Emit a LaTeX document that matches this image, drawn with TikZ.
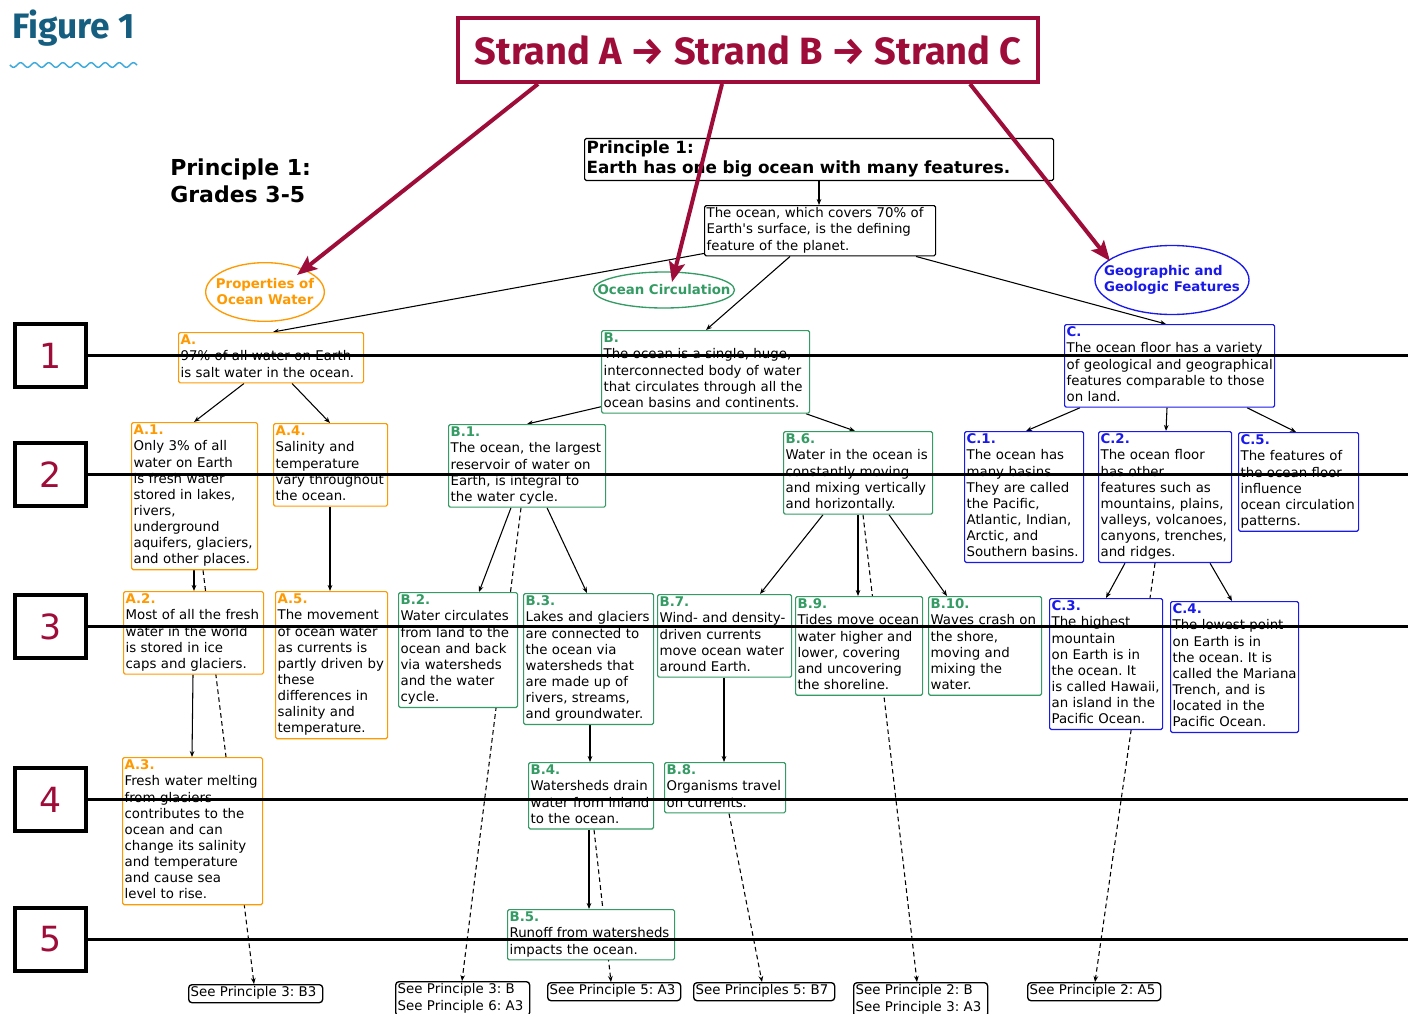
\documentclass[tikz,border=0pt]{standalone}
\usepackage{fontspec}
\setmainfont{DejaVu Sans}
\newfontfamily\fira{Fira Sans}
\usetikzlibrary{arrows.meta,shapes.geometric,backgrounds}
\definecolor{crim}{RGB}{158,12,58}
\definecolor{teal1}{RGB}{22,94,128}
\definecolor{wavec}{RGB}{60,170,220}
\definecolor{orgc}{RGB}{255,153,0}
\definecolor{grnc}{RGB}{52,155,100}
\definecolor{bluc}{RGB}{25,25,235}
\newcommand{\bt}[1]{\begin{tabular}{@{}l@{}}#1\end{tabular}}
\newcommand{\la}[1]{{\color{orgc}\bfseries #1}}
\newcommand{\lb}[1]{{\color{grnc}\bfseries #1}}
\newcommand{\lc}[1]{{\color{bluc}\bfseries #1}}
\frenchspacing
\begin{document}
\begin{tikzpicture}[x=0.75pt,y=-0.75pt,
  conn/.style={line width=0.8pt,-{Stealth[length=4.5pt,width=3.5pt]}},
  dconn/.style={conn,dash pattern=on 3.5pt off 2.5pt},
  tb/.style={draw,fill=white,anchor=north west,inner xsep=1.5pt,inner ysep=0.7pt,rounded corners=1.2pt,line width=0.9pt,font=\fontsize{10}{12.1}\selectfont,align=left},
  abox/.style={tb,draw=orgc},
  bbox/.style={tb,draw=grnc},
  cbox/.style={tb,draw=bluc},
  kbox/.style={tb,draw=black},
  seebox/.style={tb,draw=black,rounded corners=2.5pt,line width=1pt},
  grade/.style={draw,line width=3pt,minimum width=53pt,minimum height=47pt,inner sep=0,text=crim,font=\fontsize{26}{30}\selectfont},
  gline/.style={line width=2.6pt},
  strandarr/.style={crim,line width=3pt,-{Stealth[length=15pt,width=12pt,inset=3pt]}},
  ell/.style={ellipse,draw,line width=1pt,inner sep=0,fill=white},
  elltxt/.style={inner sep=0,font=\fontsize{10}{12}\selectfont\bfseries}
]
\useasboundingbox (0,0) rectangle (1408,1013);

% header
\node[anchor=base west,text=teal1,font=\fira\bfseries\fontsize{26.5}{30}\selectfont,inner sep=0] (fig) at (12,39) {Figure 1};
\draw[wavec,line width=1.1pt] plot[domain=10:137,samples=150,smooth] (\x,{65+2.3*sin(25.53*(\x-10))});
\node[draw=crim,line width=3pt,minimum width=435pt,minimum height=48pt,inner sep=0,text=crim,font=\fira\bfseries\fontsize{28.5}{34}\selectfont] (T) at (748,50) {Strand A → Strand B → Strand C};
\node[anchor=north west,inner sep=0,font=\fontsize{16.5}{20}\selectfont\bfseries] (G35) at (170,157) {\bt{Principle 1:\\Grades 3-5}};

% top boxes
\node[kbox,text width=348.75pt,font=\fontsize{12.6}{15}\selectfont\bfseries] (P) at (584,138) {\bt{Principle 1:\\Earth has one big ocean with many features.}};
\node[kbox,text width=170.25pt] (O) at (704,205) {\bt{The ocean, which covers 70\% of\\Earth\textquotesingle s surface, is the defining\\feature of the planet.}};

% ellipses
\node[ell,draw=orgc,minimum width=89pt,minimum height=44pt] (PE) at (265,292) {};
\node[elltxt,text=orgc,align=center] (PEt) at (PE.center) {Properties of\\Ocean Water};
\node[ell,draw=grnc,minimum width=105.75pt,minimum height=27pt] (OC) at (664,290) {};
\node[elltxt,text=grnc] (OCt) at (OC.center) {Ocean Circulation};
\node[ell,draw=bluc,minimum width=115.5pt,minimum height=51.75pt] (GE) at (1172,280) {};
\node[elltxt,text=bluc] (GEt) at (GE.center) {\bt{Geographic and\\Geologic Features}};

% A column
\node[abox,text width=135.75pt] (A) at (178,332) {\bt{\la{A.}\\97\% of all water on Earth\\is salt water in the ocean.}};
\node[abox,text width=91.5pt] (A1) at (131,422) {\bt{\la{A.1.}\\Only 3\% of all\\water on Earth\\is fresh water\\stored in lakes,\\rivers,\\underground\\aquifers, glaciers,\\and other places.}};
\node[abox,text width=82.5pt] (A4) at (273,423) {\bt{\la{A.4.}\\Salinity and\\temperature\\vary throughout\\the ocean.}};
\node[abox,text width=102pt] (A2) at (123,591) {\bt{\la{A.2.}\\Most of all the fresh\\water in the world\\is stored in ice\\caps and glaciers.}};
\node[abox,text width=81pt] (A5) at (275,591) {\bt{\la{A.5.}\\The movement\\of ocean water\\as currents is\\partly driven by\\these\\differences in\\salinity and\\temperature.}};
\node[abox,text width=102pt] (A3) at (122,757) {\bt{\la{A.3.}\\Fresh water melting\\from glaciers\\contributes to the\\ocean and can\\change its salinity\\and temperature\\and cause sea\\level to rise.}};

% B column
\node[bbox,text width=153pt] (B) at (601,330) {\bt{\lb{B.}\\The ocean is a single, huge,\\interconnected body of water\\that circulates through all the\\ocean basins and continents.}};
\node[bbox,text width=114.75pt] (B1) at (448,424) {\bt{\lb{B.1.}\\The ocean, the largest\\reservoir of water on\\Earth, is integral to\\the water cycle.}};
\node[bbox,text width=86.25pt] (B2) at (398,592) {\bt{\lb{B.2.}\\Water circulates\\from land to the\\ocean and back\\via watersheds\\and the water\\cycle.}};
\node[bbox,text width=94.5pt] (B3) at (523,593) {\bt{\lb{B.3.}\\Lakes and glaciers\\are connected to\\the ocean via\\watersheds that\\are made up of\\rivers, streams,\\and groundwater.}};
\node[bbox,text width=97.5pt] (B7) at (657,594) {\bt{\lb{B.7.}\\Wind- and density-\\driven currents\\move ocean water\\around Earth.}};
\node[bbox,text width=108.75pt] (B6) at (783,431) {\bt{\lb{B.6.}\\Water in the ocean is\\constantly moving\\and mixing vertically\\and horizontally.}};
\node[bbox,text width=92.25pt] (B9) at (795,596) {\bt{\lb{B.9.}\\Tides move ocean\\water higher and\\lower, covering\\and uncovering\\the shoreline.}};
\node[bbox,text width=81.75pt] (B10) at (928,596) {\bt{\lb{B.10.}\\Waves crash on\\the shore,\\moving and\\mixing the\\water.}};
\node[bbox,text width=90.75pt] (B4) at (528,762) {\bt{\lb{B.4.}\\Watersheds drain\\water from inland\\to the ocean.}};
\node[bbox,text width=87.75pt] (B8) at (664,762) {\bt{\lb{B.8.}\\Organisms travel\\on currents.}};
\node[bbox,text width=122.25pt] (B5) at (507,909) {\bt{\lb{B.5.}\\Runoff from watersheds\\impacts the ocean.}};

% C column
\node[cbox,text width=154.5pt] (C) at (1064,324) {\bt{\lc{C.}\\The ocean floor has a variety\\of geological and geographical\\features comparable to those\\on land.}};
\node[cbox,text width=86.25pt] (C1) at (964,431) {\bt{\lc{C.1.}\\The ocean has\\many basins.\\They are called\\the Pacific,\\Atlantic, Indian,\\Arctic, and\\Southern basins.}};
\node[cbox,text width=96.75pt] (C2) at (1098,431) {\bt{\lc{C.2.}\\The ocean floor\\has other\\features such as\\mountains, plains,\\valleys, volcanoes,\\canyons, trenches,\\and ridges.}};
\node[cbox,text width=87pt] (C5) at (1238,432) {\bt{\lc{C.5.}\\The features of\\the ocean floor\\influence\\ocean circulation\\patterns.}};
\node[cbox,text width=81.75pt] (C3) at (1049,598) {\bt{\lc{C.3.}\\The highest\\mountain\\on Earth is in\\the ocean. It\\is called Hawaii,\\an island in the\\Pacific Ocean.}};
\node[cbox,text width=93pt] (C4) at (1170,601) {\bt{\lc{C.4.}\\The lowest point\\on Earth is in\\the ocean. It is\\called the Mariana\\Trench, and is\\located in the\\Pacific Ocean.}};

% see boxes
\node[seebox,text width=97.5pt] (S1) at (188,984) {\bt{See Principle 3: B3}};
\node[seebox,text width=97.5pt] (S2) at (395,981) {\bt{See Principle 3: B\\See Principle 6: A3}};
\node[seebox,text width=96.75pt] (S3) at (547,982) {\bt{See Principle 5: A3}};
\node[seebox,text width=102.75pt] (S4) at (693,982) {\bt{See Principles 5: B7}};
\node[seebox,text width=97.5pt] (S5) at (853,982) {\bt{See Principle 2: B\\See Principle 3: A3}};
\node[seebox,text width=96.75pt] (S6) at (1027,982) {\bt{See Principle 2: A5}};

% connectors
\begin{pgfonlayer}{background}
\draw[conn] ([shift={(235,0)}]P.south west) -- ([shift={(115,0)}]O.north west);
\draw[conn] ([shift={(0,-3)}]O.south west) -- ([shift={(95,0)}]A.north west);
\draw[conn] ([shift={(86,0)}]O.south west) -- ([shift={(105,0)}]B.north west);
\draw[conn] ([shift={(212,0)}]O.south west) -- ([shift={(102,0)}]C.north west);
\draw[conn] ([shift={(66,0)}]A.south west) -- ([shift={(63,0)}]A1.north west);
\draw[conn] ([shift={(114,0)}]A.south west) -- ([shift={(57,0)}]A4.north west);
\draw[conn] ([shift={(63,0)}]A1.south west) -- ([shift={(71,0)}]A2.north west);
\draw[dconn] ([shift={(72,0)}]A1.south west) -- ([shift={(66,0)}]S1.north west);
\draw[conn] ([shift={(70,0)}]A2.south west) -- ([shift={(70,0)}]A3.north west);
\draw[conn] ([shift={(57,0)}]A4.south west) -- ([shift={(55,0)}]A5.north west);
\draw[conn] ([shift={(0,-7)}]B.south west) -- ([shift={(79,0)}]B1.north west);
\draw[conn] ([shift={(205,0)}]B.south west) -- ([shift={(72,0)}]B6.north west);
\draw[conn] ([shift={(63,0)}]B1.south west) -- ([shift={(81,0)}]B2.north west);
\draw[conn] ([shift={(99,0)}]B1.south west) -- ([shift={(64,0)}]B3.north west);
\draw[dconn] ([shift={(73,0)}]B1.south west) -- ([shift={(67,0)}]S2.north west);
\draw[conn] ([shift={(67,0)}]B3.south west) -- ([shift={(62,0)}]B4.north west);
\draw[conn] ([shift={(61,0)}]B4.south west) -- ([shift={(82,0)}]B5.north west);
\draw[dconn] ([shift={(66,0)}]B4.south west) -- ([shift={(64,0)}]S3.north west);
\draw[conn] ([shift={(40,0)}]B6.south west) -- ([shift={(103,0)}]B7.north west);
\draw[conn] ([shift={(75,0)}]B6.south west) -- ([shift={(63,0)}]B9.north west);
\draw[conn] ([shift={(106,0)}]B6.south west) -- ([shift={(19,0)}]B10.north west);
\draw[dconn] ([shift={(80,0)}]B6.south west) -- ([shift={(64,0)}]S5.north west);
\draw[conn] ([shift={(67,0)}]B7.south west) -- ([shift={(60,0)}]B8.north west);
\draw[dconn] ([shift={(65,0)}]B8.south west) -- ([shift={(69,0)}]S4.north west);
\draw[conn] ([shift={(16,0)}]C.south west) -- ([shift={(62,0)}]C1.north west);
\draw[conn] ([shift={(103,0)}]C.south west) -- ([shift={(68,0)}]C2.north west);
\draw[conn] ([shift={(183,0)}]C.south west) -- ([shift={(58,0)}]C5.north west);
\draw[conn] ([shift={(27,0)}]C2.south west) -- ([shift={(57,0)}]C3.north west);
\draw[conn] ([shift={(112,0)}]C2.south west) -- ([shift={(62,0)}]C4.north west);
\draw[dconn] ([shift={(57,0)}]C2.south west) -- ([shift={(68,0)}]S6.north west);
\end{pgfonlayer}

% grade boxes and lines
\node[grade] (G1) at (50.5,355.5) {1};
\node[grade] (G2) at (50.5,474.5) {2};
\node[grade] (G3) at (50.5,626.5) {3};
\node[grade] (G4) at (50.5,799.5) {4};
\node[grade] (G5) at (50.5,939.5) {5};
\draw[gline] (G1.east) -- (1408,0 |- G1.east);
\draw[gline] (G2.east) -- (1408,0 |- G2.east);
\draw[gline] (G3.east) -- (1408,0 |- G3.east);
\draw[gline] (G4.east) -- (1408,0 |- G4.east);
\draw[gline] (G5.east) -- (1408,0 |- G5.east);

% strand arrows
\draw[strandarr] ([shift={(82,0)}]T.south west) -- ([shift={(32,-17)}]PE.center);
\draw[strandarr] ([shift={(266,0)}]T.south west) -- ([shift={(8,-8)}]OC.center);
\draw[strandarr] ([shift={(514,0)}]T.south west) -- ([shift={(-62,-19)}]GE.center);
\end{tikzpicture}
\end{document}
